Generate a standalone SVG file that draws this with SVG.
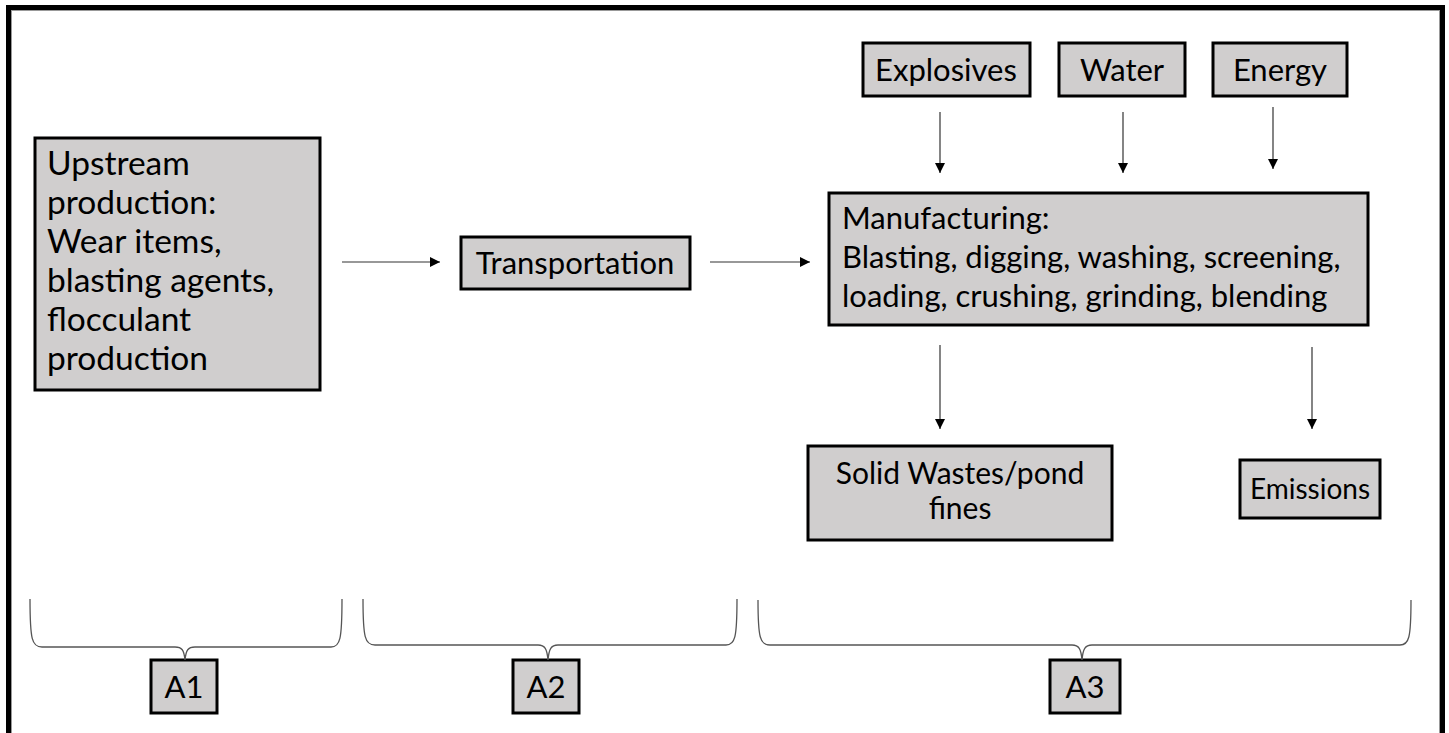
<svg xmlns="http://www.w3.org/2000/svg" width="1449" height="733" viewBox="0 0 1449 733">
<defs>
<style>
.box{fill:#d0cece;stroke:#000;stroke-width:3}
.t{font-family:Lato,"Open Sans",sans-serif;font-size:31px;fill:#000}
.c{text-anchor:middle}
.conn{stroke:#333;stroke-width:1.2;fill:none}
.brace{stroke:#555;stroke-width:1.3;fill:none}
</style>
<marker id="ah" markerUnits="userSpaceOnUse" markerWidth="11" markerHeight="10" refX="10" refY="5" orient="auto">
<path d="M0,0 L10,5 L0,10 Z" fill="#000"/>
</marker>
</defs>
<rect x="0" y="0" width="1449" height="733" fill="#fff"/>
<rect x="8.5" y="7.5" width="1434" height="740" fill="none" stroke="#000" stroke-width="5"/>
<rect x="11.5" y="10.5" width="1428" height="740" fill="none" stroke="#999" stroke-width="1"/>

<g id="upstream">
<rect class="box" x="35" y="138" width="285" height="252"/>
<text class="t" style="font-size:33.5px"><tspan x="47" y="175">Upstream</tspan><tspan x="47" y="214">production:</tspan><tspan x="47" y="253">Wear items,</tspan><tspan x="47" y="292">blasting agents,</tspan><tspan x="47" y="331">flocculant</tspan><tspan x="47" y="370">production</tspan></text>
</g>
<g id="transportation">
<rect class="box" x="461" y="237" width="229" height="52"/>
<text class="t c" x="575" y="274">Transportation</text>
</g>
<g id="manufacturing">
<rect class="box" x="829" y="193" width="539" height="132"/>
<text class="t"><tspan x="842" y="229">Manufacturing:</tspan><tspan x="842" y="268">Blasting, digging, washing, screening,</tspan><tspan x="842" y="307">loading, crushing, grinding, blending</tspan></text>
</g>
<g id="explosives">
<rect class="box" x="863" y="43" width="167" height="53"/>
<text class="t c" x="946" y="81">Explosives</text>
</g>
<g id="water">
<rect class="box" x="1059" y="43" width="126" height="53"/>
<text class="t c" x="1122" y="81">Water</text>
</g>
<g id="energy">
<rect class="box" x="1213" y="43" width="134" height="53"/>
<text class="t c" x="1280" y="81">Energy</text>
</g>
<g id="solidwastes">
<rect class="box" x="808" y="446" width="304" height="94"/>
<text class="t c" style="font-size:30px"><tspan x="960" y="484">Solid Wastes/pond</tspan><tspan x="960" y="519">fines</tspan></text>
</g>
<g id="emissions">
<rect class="box" x="1240" y="460" width="140" height="58"/>
<text class="t c" style="font-size:28px" x="1310" y="499">Emissions</text>
</g>
<g id="a1">
<rect class="box" x="151" y="660" width="66" height="53"/>
<text class="t c" x="184" y="698">A1</text>
</g>
<g id="a2">
<rect class="box" x="513" y="660" width="66" height="53"/>
<text class="t c" x="546" y="698">A2</text>
</g>
<g id="a3">
<rect class="box" x="1050" y="660" width="70" height="53"/>
<text class="t c" x="1085" y="698">A3</text>
</g>

<g id="connectors">
<line class="conn" x1="342" y1="262" x2="440" y2="262" marker-end="url(#ah)"/>
<line class="conn" x1="710" y1="262" x2="810" y2="262" marker-end="url(#ah)"/>
<line class="conn" x1="940" y1="112" x2="940" y2="173" marker-end="url(#ah)"/>
<line class="conn" x1="1123" y1="112" x2="1123" y2="173" marker-end="url(#ah)"/>
<line class="conn" x1="1273" y1="107" x2="1273" y2="169" marker-end="url(#ah)"/>
<line class="conn" x1="940" y1="345" x2="940" y2="429" marker-end="url(#ah)"/>
<line class="conn" x1="1312" y1="347" x2="1312" y2="429" marker-end="url(#ah)"/>
<path class="brace" d="M30,599 C30,640 32,647 42,647 L175,647 C182,647 184,650 185,660 C186,650 188,647 195,647 L331,647 C340,647 342,640 342,599"/>
<path class="brace" d="M363,599 C363,638 365,645 375,645 L538,645 C545,645 547,649 548,660 C549,649 551,645 558,645 L726,645 C735,645 737,638 737,599"/>
<path class="brace" d="M758,600 C758,638 760,645 770,645 L1072,645 C1079,645 1081,649 1082,660 C1083,649 1085,645 1092,645 L1400,645 C1409,645 1411,638 1411,600"/>
</g>
</svg>
